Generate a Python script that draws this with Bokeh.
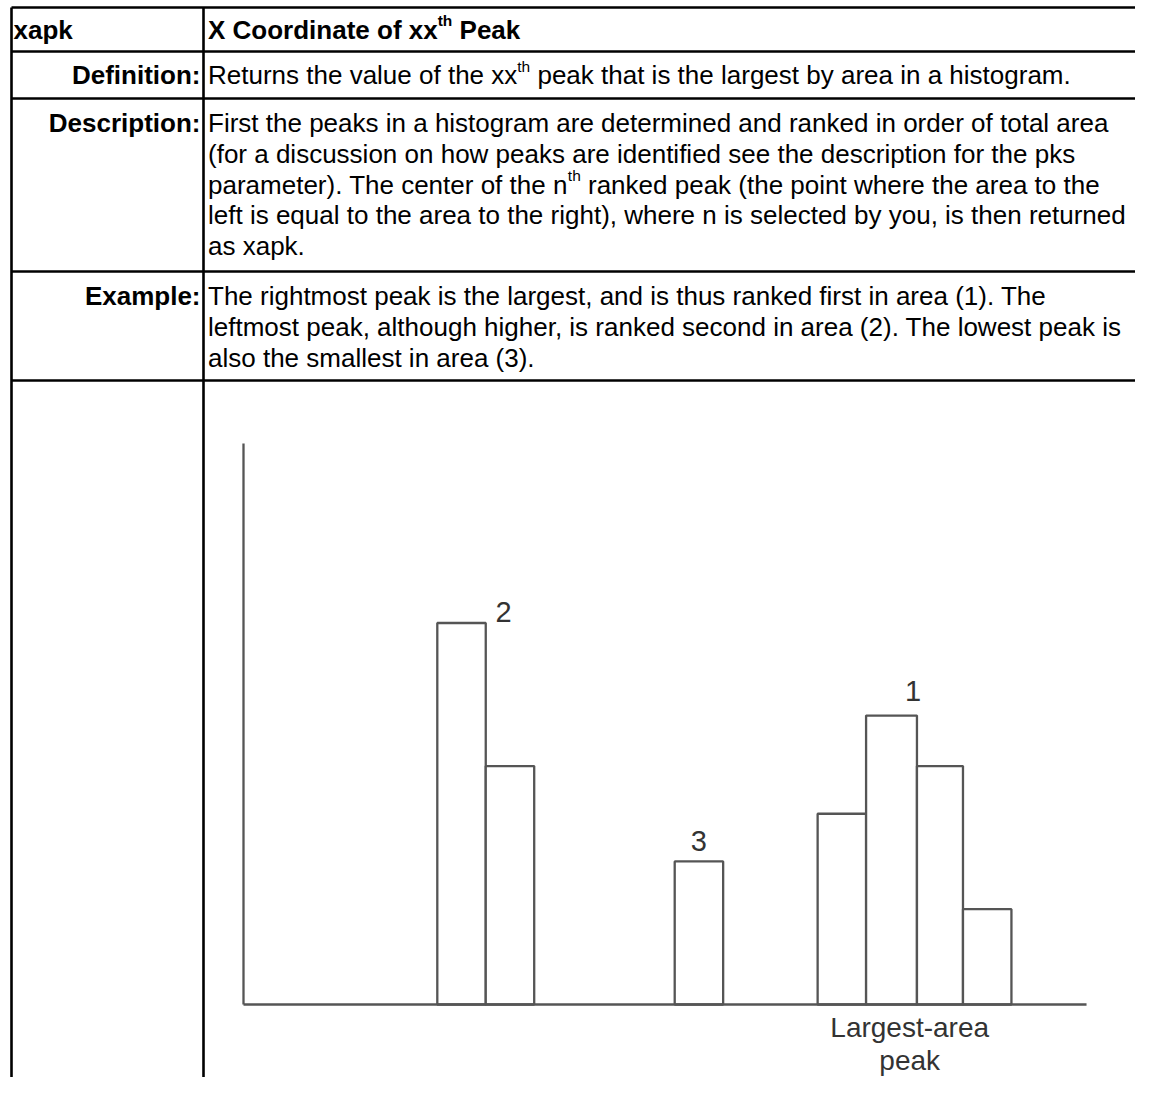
from bokeh.plotting import figure
from bokeh.models import Range1d
from bokeh.core.properties import value
from bokeh.embed import file_html
from bokeh.resources import INLINE

# ---------------- data ----------------
param_name = "xapk"
title_text = "X Coordinate of xx^{th} Peak"
row_labels = ["Definition:", "Description:", "Example:"]
definition_lines = ["Returns the value of the xx^{th} peak that is the largest by area in a histogram."]
description_lines = [
    "First the peaks in a histogram are determined and ranked in order of total area",
    "(for a discussion on how peaks are identified see the description for the pks",
    "parameter). The center of the n^{th} ranked peak (the point where the area to the",
    "left is equal to the area to the right), where n is selected by you, is then returned",
    "as xapk.",
]
example_lines = [
    "The rightmost peak is the largest, and is thus ranked first in area (1). The",
    "leftmost peak, although higher, is ranked second in area (2). The lowest peak is",
    "also the smallest in area (3).",
]

# histogram bins (x in bin units) and heights (counts, axis runs 0..10)
bin_left = [4.0, 5.0, 8.9, 11.85, 12.85, 13.9, 14.85]
bin_right = [5.0, 6.0, 9.9, 12.85, 13.9, 14.85, 15.85]
counts = [6.8, 4.25, 2.55, 3.4, 5.15, 4.25, 1.7]
axis_x_max = 17.4
axis_y_max = 10.0
rank_bar_index = [0, 2, 4]
rank_labels = ["2", "3", "1"]
caption_lines = ["Largest-area", "peak"]

# ---------------- layout ----------------
FONT = "Liberation Sans"
BODY = 26
SUP = 15.5
W, H = 1135, 1077

REG = dict(zip("abcdefghijklmnopqrstuvwxyz",
               [556, 556, 500, 556, 556, 278, 556, 556, 222, 222, 500, 222, 833,
                556, 556, 556, 556, 333, 500, 278, 556, 500, 722, 500, 500, 500]))
REG.update(dict(zip("ABCDEFGHIJKLMNOPQRSTUVWXYZ",
                    [667, 667, 722, 722, 667, 611, 778, 722, 278, 500, 667, 556, 833,
                     722, 778, 667, 778, 722, 667, 611, 722, 667, 944, 667, 667, 611])))
REG.update({" ": 278, "(": 333, ")": 333, ",": 278, "-": 333, ".": 278, ":": 278})
BLD = dict(zip("abcdefghijklmnopqrstuvwxyz",
               [556, 611, 556, 611, 556, 333, 611, 611, 278, 278, 556, 278, 889,
                611, 611, 611, 611, 389, 556, 333, 611, 556, 778, 556, 556, 500]))
BLD.update(dict(zip("ABCDEFGHIJKLMNOPQRSTUVWXYZ",
                    [722, 722, 722, 722, 667, 611, 778, 722, 278, 556, 722, 611, 833,
                     722, 778, 667, 778, 722, 667, 611, 722, 667, 944, 667, 667, 611])))
BLD.update({" ": 278, "(": 333, ")": 333, ",": 278, "-": 333, ".": 278, ":": 333})


def text_width(s, size, bold=False):
    t = BLD if bold else REG
    return sum(t.get(c, 556) for c in s) * size / 1000.0


p = figure(width=W, height=H, x_range=Range1d(0, W), y_range=Range1d(H, 0),
           output_backend="svg", toolbar_location=None, min_border=0,
           x_axis_location=None, y_axis_location=None)
p.xgrid.visible = False
p.ygrid.visible = False
p.outline_line_color = None
p.background_fill_color = "white"
p.border_fill_color = "white"


def put(x, y, s, size=BODY, bold=False, align="left", color="black"):
    p.text(x=[x], y=[y], text=[s], text_font=value(FONT), text_font_size=f"{size}px",
           text_font_style="bold" if bold else "normal", text_align=align,
           text_baseline="middle", text_color=color)


def put_rich(x, y, s, bold=False):
    parts = []
    rest = s
    while "^{" in rest:
        a, b = rest.split("^{", 1)
        sup, rest = b.split("}", 1)
        parts.append((a, False))
        parts.append((sup, True))
    parts.append((rest, False))
    cx = x
    for txt, is_sup in parts:
        if not txt:
            continue
        size = SUP if is_sup else BODY
        # SVG collapses leading spaces: advance the pen instead
        lead = len(txt) - len(txt.lstrip(" "))
        cx += text_width(" " * lead, size, bold)
        txt = txt.lstrip(" ")
        put(cx, y - 9 if is_sup else y, txt, size=size, bold=bold)
        cx += text_width(txt, size, bold)


# table grid
LEFT, DIV, RIGHT, TOP = 11, 203, W, 7
rows_y = [TOP, 51, 98, 271, 380]
p.segment(x0=[LEFT] * len(rows_y), y0=rows_y, x1=[RIGHT] * len(rows_y), y1=rows_y,
          line_color="black", line_width=2.6)
p.segment(x0=[LEFT, DIV], y0=[TOP, TOP], x1=[LEFT, DIV], y1=[H, H],
          line_color="black", line_width=2.6)

TX = DIV + 4.5
LX = DIV - 3
LINE = 30.8

# header
put(13, 29, param_name, bold=True)
put_rich(TX, 29, title_text, bold=True)

# definition
put(LX, 74.5, row_labels[0], bold=True, align="right")
for i, s in enumerate(definition_lines):
    put_rich(TX, 74.5 + i * LINE, s)

# description
put(LX, 122.5, row_labels[1], bold=True, align="right")
for i, s in enumerate(description_lines):
    put_rich(TX, 122.5 + i * LINE, s)

# example
put(LX, 295.5, row_labels[2], bold=True, align="right")
for i, s in enumerate(example_lines):
    put_rich(TX, 295.5 + i * LINE, s)

# ---------------- histogram ----------------
KX, AX0 = 48.45, 243.0
KY, AY0 = 56.1, 1004.0
p.extra_x_ranges = {"hx": Range1d((0 - AX0) / KX, (W - AX0) / KX)}
p.extra_y_ranges = {"hy": Range1d((AY0 - H) / KY, (AY0 - 0) / KY)}

HC = "#555555"
p.quad(left=bin_left, right=bin_right, bottom=[0] * len(counts), top=counts,
       fill_color="white", line_color=HC, line_width=2.3,
       x_range_name="hx", y_range_name="hy")
p.segment(x0=[0, 0], y0=[0, 0], x1=[0, axis_x_max], y1=[axis_y_max, 0],
          line_color=HC, line_width=2.3, x_range_name="hx", y_range_name="hy")

lx, ly = [], []
for idx in rank_bar_index:
    cx = (bin_left[idx] + bin_right[idx]) / 2
    if idx == 0:
        lx.append(bin_right[idx] + 0.37)
        ly.append(counts[idx] + 0.2)
    elif idx == 4:
        lx.append(bin_right[idx] - 0.08)
        ly.append(counts[idx] + 0.43)
    else:
        lx.append(cx)
        ly.append(counts[idx] + 0.37)
p.text(x=lx, y=ly, text=rank_labels, text_font=value(FONT), text_font_size="29px",
       text_color="#333333", text_align="center", text_baseline="middle",
       x_range_name="hx", y_range_name="hy")

cap_x = bin_right[4] - 0.15
p.text(x=[cap_x, cap_x], y=[-0.41, -1.0], text=caption_lines, text_font=value(FONT),
       text_font_size="28px", text_color="#333333", text_align="center",
       text_baseline="middle", x_range_name="hx", y_range_name="hy")

open("out.html", "w").write(file_html(p, INLINE))
